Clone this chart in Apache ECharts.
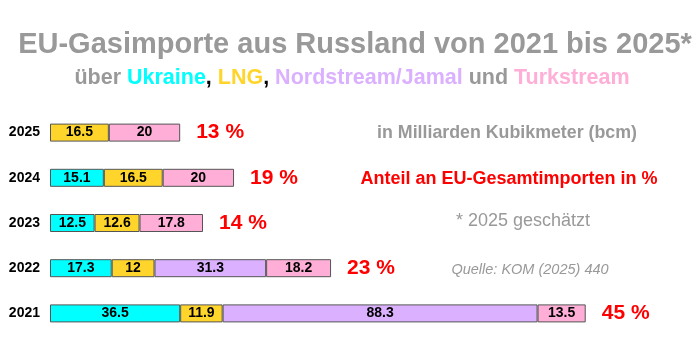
<!DOCTYPE html>
<html><head><meta charset="utf-8">
<script src="https://cdn.jsdelivr.net/npm/echarts@6/dist/echarts.min.js"></script>
<style>html,body{margin:0;padding:0;background:#fff}#c{width:700px;height:355px}</style>
</head><body><div id="c"></div>
<script>
var years = ['2021', '2022', '2023', '2024', '2025'];
var ukraine = [36.5, 17.3, 12.5, 15.1, null];
var lng = [11.9, 12, 12.6, 16.5, 16.5];
var nordstream = [88.3, 31.3, null, null, null];
var turkstream = [13.5, 18.2, 17.8, 20, 20];
var shares = [45, 23, 14, 19, 13];

var colors = { ukraine: '#00FFFF', lng: '#FFD52B', nord: '#DAB0FF', turk: '#FFAFD7' };
var FONT = '"Liberation Sans", Arial, sans-serif';

function seg(name, data, color) {
  return {
    name: name, type: 'bar', stack: 'a', data: data, barWidth: 18,
    itemStyle: { color: color, borderColor: '#555', borderWidth: 1 },
    label: { show: true, position: 'inside', color: '#000', fontWeight: 'bold', fontSize: 14, fontFamily: FONT,
      formatter: function (p) { return p.value == null ? '' : String(p.value); } }
  };
}
var totals = years.map(function (y, i) {
  return [ukraine[i], lng[i], nordstream[i], turkstream[i]].reduce(function (a, b) { return a + (b || 0); }, 0);
});

var SF = 21.5;
var chart = echarts.init(document.getElementById('c'), null, { renderer: 'canvas' });
chart.setOption({
  animation: false,
  grid: { left: 50, width: 642, top: 110, height: 226 },
  xAxis: { type: 'value', min: 0, max: 180, show: false },
  yAxis: { type: 'category', data: years, axisLine: { show: false }, axisTick: { show: false },
    axisLabel: { color: '#000', fontWeight: 'bold', fontSize: 14, fontFamily: FONT, margin: 10 } },
  title: [
    { text: 'EU-Gasimporte aus Russland von 2021 bis 2025*', left: 350, textAlign: 'center', top: 25,
      textStyle: { color: '#999', fontSize: 29, fontWeight: 'bold', fontFamily: FONT } },
    { text: '{g|über }{u|Ukraine}{k|, }{l|LNG}{k|, }{n|Nordstream/Jamal}{g| und }{t|Turkstream}', left: 347, textAlign: 'center', top: 62,
      textStyle: { fontSize: SF, fontWeight: 'bold', fontFamily: FONT,
        rich: {
          g: { color: '#999', fontSize: SF, fontWeight: 'bold', fontFamily: FONT },
          u: { color: colors.ukraine, fontSize: SF, fontWeight: 'bold', fontFamily: FONT },
          k: { color: '#000', fontSize: SF, fontWeight: 'bold', fontFamily: FONT },
          l: { color: colors.lng, fontSize: SF, fontWeight: 'bold', fontFamily: FONT },
          n: { color: colors.nord, fontSize: SF, fontWeight: 'bold', fontFamily: FONT },
          t: { color: colors.turk, fontSize: SF, fontWeight: 'bold', fontFamily: FONT }
        } } }
  ],
  graphic: [
    { type: 'text', x: 507, y: 133, style: { text: 'in Milliarden Kubikmeter (bcm)', fill: '#999', font: 'bold 17.8px ' + FONT, textAlign: 'center', textVerticalAlign: 'middle' } },
    { type: 'text', x: 509, y: 179, style: { text: 'Anteil an EU-Gesamtimporten in %', fill: '#f00', font: 'bold 18px ' + FONT, textAlign: 'center', textVerticalAlign: 'middle' } },
    { type: 'text', x: 523, y: 221, style: { text: '* 2025 geschätzt', fill: '#999', font: '18px ' + FONT, textAlign: 'center', textVerticalAlign: 'middle' } },
    { type: 'text', x: 530, y: 270, style: { text: 'Quelle: KOM (2025) 440', fill: '#999', font: 'italic 14.5px ' + FONT, textAlign: 'center', textVerticalAlign: 'middle' } }
  ],
  series: [
    seg('Ukraine', ukraine, colors.ukraine),
    seg('LNG', lng, colors.lng),
    seg('Nordstream/Jamal', nordstream, colors.nord),
    seg('Turkstream', turkstream, colors.turk),
    { type: 'scatter', symbolSize: 0, itemStyle: { opacity: 1 }, data: totals.map(function (t, i) { return [t, years[i]]; }),
      label: { show: true, position: 'right', distance: 16, color: '#f00', opacity: 1, fontWeight: 'bold', fontSize: 21, fontFamily: FONT,
        formatter: function (p) { return shares[p.dataIndex] + ' %'; } } }
  ]
});
</script></body></html>
